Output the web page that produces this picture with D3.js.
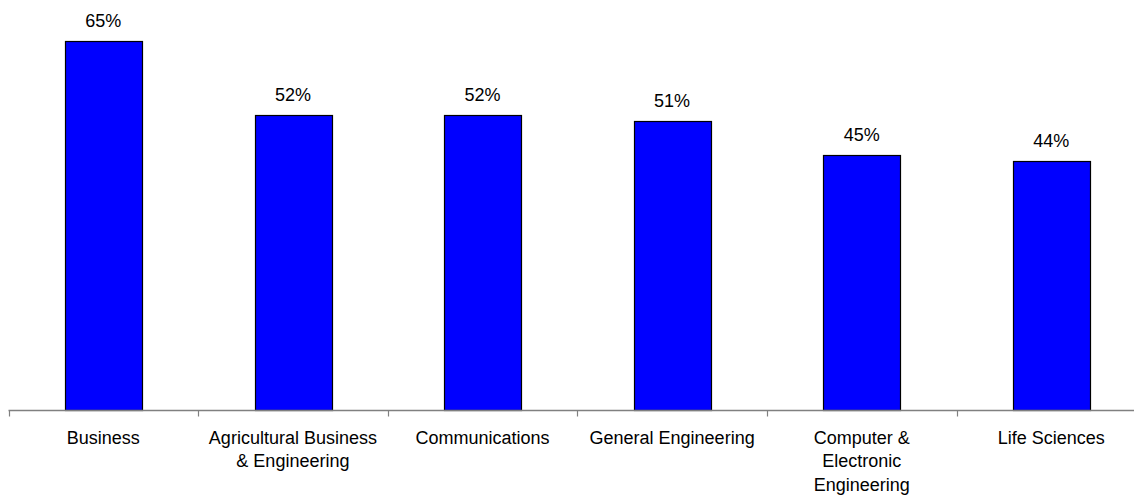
<!DOCTYPE html>
<html><head><meta charset="utf-8">
<script src="https://cdn.jsdelivr.net/npm/d3@7"></script>
<style>
html,body{margin:0;padding:0;background:#fff;}
svg{display:block;}
text{font-family:"Liberation Sans",Arial,sans-serif;fill:#000;}
</style></head>
<body>
<svg id="chart" width="1134" height="498"></svg>
<script>
const categories = ["Business","Agricultural Business\n& Engineering","Communications","General Engineering","Computer &\nElectronic\nEngineering","Life Sciences"];
const values = [65,52,52,51,45,44];
const valueLabels = ["65%","52%","52%","51%","45%","44%"];

const svg = d3.select("#chart");
const x0 = 8.5, step = 189.6;
const x = d3.scaleBand().domain(categories).range([x0, x0 + step*categories.length]).padding(0);
const y = d3.scaleLinear().domain([0,100]).range([410.5, 410.5-568]);
const bw = x.bandwidth()*0.405;

// bars
svg.selectAll("rect.bar").data(values).join("rect")
  .attr("class","bar")
  .attr("x",(d,i)=>Math.round(x(categories[i]) + x.bandwidth()/2 - bw/2)+0.5)
  .attr("y",d=>Math.round(y(d))+0.5)
  .attr("width",Math.round(bw))
  .attr("height",d=>y(0)-Math.round(y(d))-0.5)
  .attr("fill","#0000FF")
  .attr("stroke","#000")
  .attr("stroke-width",1.2);

// value labels
svg.selectAll("text.val").data(values).join("text")
  .attr("class","val")
  .attr("x",(d,i)=>x(categories[i]) + x.bandwidth()/2)
  .attr("y",d=>y(d)-14)
  .attr("text-anchor","middle")
  .style("font-size","18px")
  .text((d,i)=>valueLabels[i]);

// axis
const axisG = svg.append("g");
axisG.append("line")
  .attr("x1",x0).attr("x2",x0+step*categories.length)
  .attr("y1",y(0)).attr("y2",y(0))
  .attr("stroke","#808080").attr("stroke-width",1.3);
const edges = categories.map(c=>x(c)).concat([x0+step*categories.length]);
axisG.selectAll("line.tick").data(edges).join("line")
  .attr("class","tick")
  .attr("x1",d=>Math.round(d)+0.5).attr("x2",d=>Math.round(d)+0.5)
  .attr("y1",y(0)).attr("y2",y(0)+6)
  .attr("stroke","#808080").attr("stroke-width",1.2);

// category labels
const lab = svg.selectAll("text.cat").data(categories).join("text")
  .attr("class","cat")
  .attr("text-anchor","middle")
  .style("font-size","18px")
  .attr("transform",d=>`translate(${x(d)+x.bandwidth()/2},${y(0)+33})`);
lab.each(function(d){
  const t = d3.select(this);
  d.split("\n").forEach((ln,i)=>{
    t.append("tspan").attr("x",0).attr("y",i*23.5).text(ln);
  });
});
</script>
</body></html>
